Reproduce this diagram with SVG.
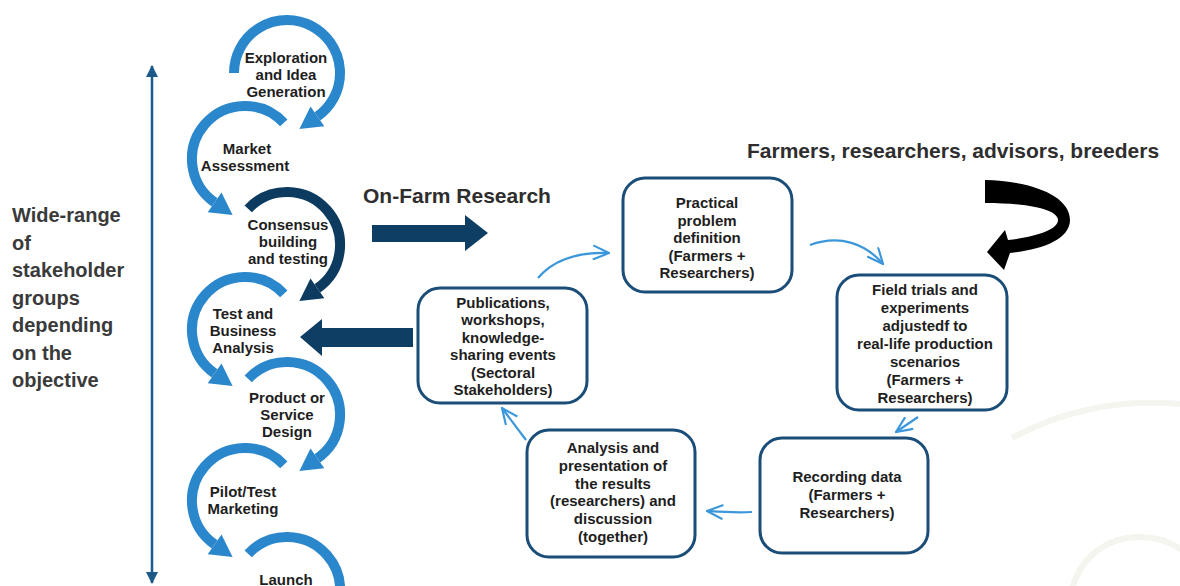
<svg xmlns="http://www.w3.org/2000/svg" width="1180" height="586" viewBox="0 0 1180 586">
<style>
  .arc{fill:none;stroke-width:10}
  .lb{stroke:#2b87cc}
  .lbf{fill:#2b87cc}
  .db{stroke:#0c3b5f}
  .dbf{fill:#0c3b5f}
  .st{font-family:"Liberation Sans",Arial,sans-serif;font-weight:bold;font-size:15px;fill:#1e1e1e;text-anchor:middle}
  .box{fill:#fff;stroke:#1a4d78;stroke-width:3}
  .bt{font-family:"Liberation Sans",Arial,sans-serif;font-weight:bold;font-size:15px;fill:#1e1e1e;text-anchor:middle}
  .side{font-family:"Liberation Sans",Arial,sans-serif;font-weight:bold;font-size:20px;fill:#3a3a3a}
  .head{font-family:"Liberation Sans",Arial,sans-serif;font-weight:bold;font-size:21px;fill:#2e2e2e}
  .con{fill:none;stroke:#3b97db;stroke-width:2.2;marker-end:url(#chev)}
</style>
<defs>
  <marker id="chev" viewBox="0 0 20 18" refX="19" refY="9" markerWidth="18" markerHeight="16" markerUnits="userSpaceOnUse" orient="auto">
    <path d="M1,1 L19,9 L1,17" fill="none" stroke="#3b97db" stroke-width="2.4"/>
  </marker>
  <marker id="vt" viewBox="0 0 12 12" refX="11" refY="6" markerWidth="12" markerHeight="12" markerUnits="userSpaceOnUse" orient="auto-start-reverse">
    <path d="M0,0 L12,6 L0,12 Z" fill="#1d5a8c"/>
  </marker>
  <path id="arcR" d="M -38.8,-36.1 A 53 53 0 1 1 30.4,43.4"/>
  <path id="arcFirst" d="M -53,0 A 53 53 0 1 1 30.4,43.4"/>
  <polygon id="headR" points="37.3,53.2 12.4,56 23.5,33.6"/>
</defs>
<rect width="1180" height="586" fill="#fff"/>

<!-- faint background arcs -->
<g id="watermark" fill="none" stroke="#f4f5ef" stroke-width="6">
  <path d="M1012,438 Q1090,396 1180,404"/>
  <path d="M1072,590 C1080,556 1108,537 1140,537 C1158,537 1172,543 1182,550"/>
</g>

<!-- vertical double arrow -->
<g id="range-axis">
  <line x1="152" y1="66" x2="152" y2="583" stroke="#1d5a8c" stroke-width="2.5" marker-start="url(#vt)" marker-end="url(#vt)"/>
</g>

<g id="side-label">
  <text class="side" x="12" y="222">Wide-range</text>
  <text class="side" x="12" y="249.5">of</text>
  <text class="side" x="12" y="277">stakeholder</text>
  <text class="side" x="12" y="304.5">groups</text>
  <text class="side" x="12" y="332">depending</text>
  <text class="side" x="12" y="359.5">on the</text>
  <text class="side" x="12" y="387">objective</text>
</g>

<!-- spiral process -->
<g id="launch">
  <g transform="translate(287,590)">
    <use href="#arcR" class="arc lb"/>
  </g>
  <text class="st" x="286" y="585">Launch</text>
</g>
<g id="pilot">
  <g transform="translate(245,501) scale(-1,1)">
    <use href="#arcR" class="arc lb"/>
    <use href="#headR" class="lbf"/>
  </g>
  <text class="st" x="243" y="497">Pilot/Test</text>
  <text class="st" x="243" y="514">Marketing</text>
</g>
<g id="product">
  <g transform="translate(287,415)">
    <use href="#arcR" class="arc lb"/>
    <use href="#headR" class="lbf"/>
  </g>
  <text class="st" x="287" y="403">Product or</text>
  <text class="st" x="287" y="420">Service</text>
  <text class="st" x="287" y="437">Design</text>
</g>
<g id="test">
  <g transform="translate(245,330) scale(-1,1)">
    <use href="#arcR" class="arc lb"/>
    <use href="#headR" class="lbf"/>
  </g>
  <text class="st" x="243" y="319">Test and</text>
  <text class="st" x="243" y="336">Business</text>
  <text class="st" x="243" y="353">Analysis</text>
</g>
<g id="consensus">
  <g transform="translate(287,245)">
    <use href="#arcR" class="arc db"/>
    <use href="#headR" class="dbf"/>
  </g>
  <text class="st" x="288" y="230">Consensus</text>
  <text class="st" x="288" y="247">building</text>
  <text class="st" x="288" y="264">and testing</text>
</g>
<g id="market">
  <g transform="translate(245,159) scale(-1,1)">
    <use href="#arcR" class="arc lb"/>
    <use href="#headR" class="lbf"/>
  </g>
  <text class="st" x="247" y="154">Market</text>
  <text class="st" x="245" y="171">Assessment</text>
</g>
<g id="exploration">
  <g transform="translate(287,73)">
    <use href="#arcFirst" class="arc lb"/>
    <use href="#headR" class="lbf"/>
  </g>
  <text class="st" x="286" y="63">Exploration</text>
  <text class="st" x="286" y="80">and Idea</text>
  <text class="st" x="286" y="97">Generation</text>
</g>

<!-- headings -->
<text class="head" x="363" y="203">On-Farm Research</text>
<text class="head" x="747" y="158">Farmers, researchers, advisors, breeders</text>

<!-- block arrows -->
<g id="block-arrows">
  <polygon points="372,225 465,225 465,215 488,233 465,251 465,242 372,242" fill="#0f3e64"/>
  <polygon points="300,337 322,319 322,328 413,328 413,347 322,347 322,356" fill="#0f3e64"/>
  <path d="M985,180 C1030,181 1070,195 1070,220 C1070,240 1040,250 1010,253 L1004,270 L987,252 L1005,230 L1008,240 C1035,237 1058,230 1058,220 C1058,210 1030,203 985,203 Z" fill="#000"/>
</g>

<!-- connectors -->
<g id="connectors">
  <path class="con" d="M538,278 C555,258 580,252 609,253"/>
  <path class="con" d="M810,245 C840,234 866,244 883,264"/>
  <path class="con" d="M918,417 L896,432"/>
  <path class="con" d="M752,512 C735,513 722,512 707,511"/>
  <path class="con" d="M526,440 L502,408"/>
</g>

<!-- boxes -->
<g id="practical">
  <rect class="box" x="623" y="178" width="169" height="114" rx="22"/>
  <text class="bt" x="707" y="208">Practical</text>
  <text class="bt" x="707" y="225.5">problem</text>
  <text class="bt" x="707" y="243">definition</text>
  <text class="bt" x="707" y="260.5">(Farmers +</text>
  <text class="bt" x="707" y="278">Researchers)</text>
</g>
<g id="field">
  <rect class="box" x="837" y="275" width="170" height="135" rx="22"/>
  <text class="bt" x="925" y="295">Field trials and</text>
  <text class="bt" x="925" y="313">experiments</text>
  <text class="bt" x="925" y="331">adjustedf to</text>
  <text class="bt" x="925" y="349">real-life production</text>
  <text class="bt" x="925" y="367">scenarios</text>
  <text class="bt" x="925" y="385">(Farmers +</text>
  <text class="bt" x="925" y="403">Researchers)</text>
</g>
<g id="recording">
  <rect class="box" x="760" y="438" width="168" height="115" rx="22"/>
  <text class="bt" x="847" y="482">Recording data</text>
  <text class="bt" x="847" y="500">(Farmers +</text>
  <text class="bt" x="847" y="518">Researchers)</text>
</g>
<g id="analysis">
  <rect class="box" x="527" y="430" width="168" height="127" rx="22"/>
  <text class="bt" x="613" y="453">Analysis and</text>
  <text class="bt" x="613" y="471">presentation of</text>
  <text class="bt" x="613" y="489">the results</text>
  <text class="bt" x="613" y="506">(researchers) and</text>
  <text class="bt" x="613" y="524">discussion</text>
  <text class="bt" x="613" y="542">(together)</text>
</g>
<g id="publications">
  <rect class="box" x="418" y="288" width="169" height="115" rx="22"/>
  <text class="bt" x="503" y="308">Publications,</text>
  <text class="bt" x="503" y="325.4">workshops,</text>
  <text class="bt" x="503" y="342.8">knowledge-</text>
  <text class="bt" x="503" y="360.2">sharing events</text>
  <text class="bt" x="503" y="377.6">(Sectoral</text>
  <text class="bt" x="503" y="395">Stakeholders)</text>
</g>
</svg>
